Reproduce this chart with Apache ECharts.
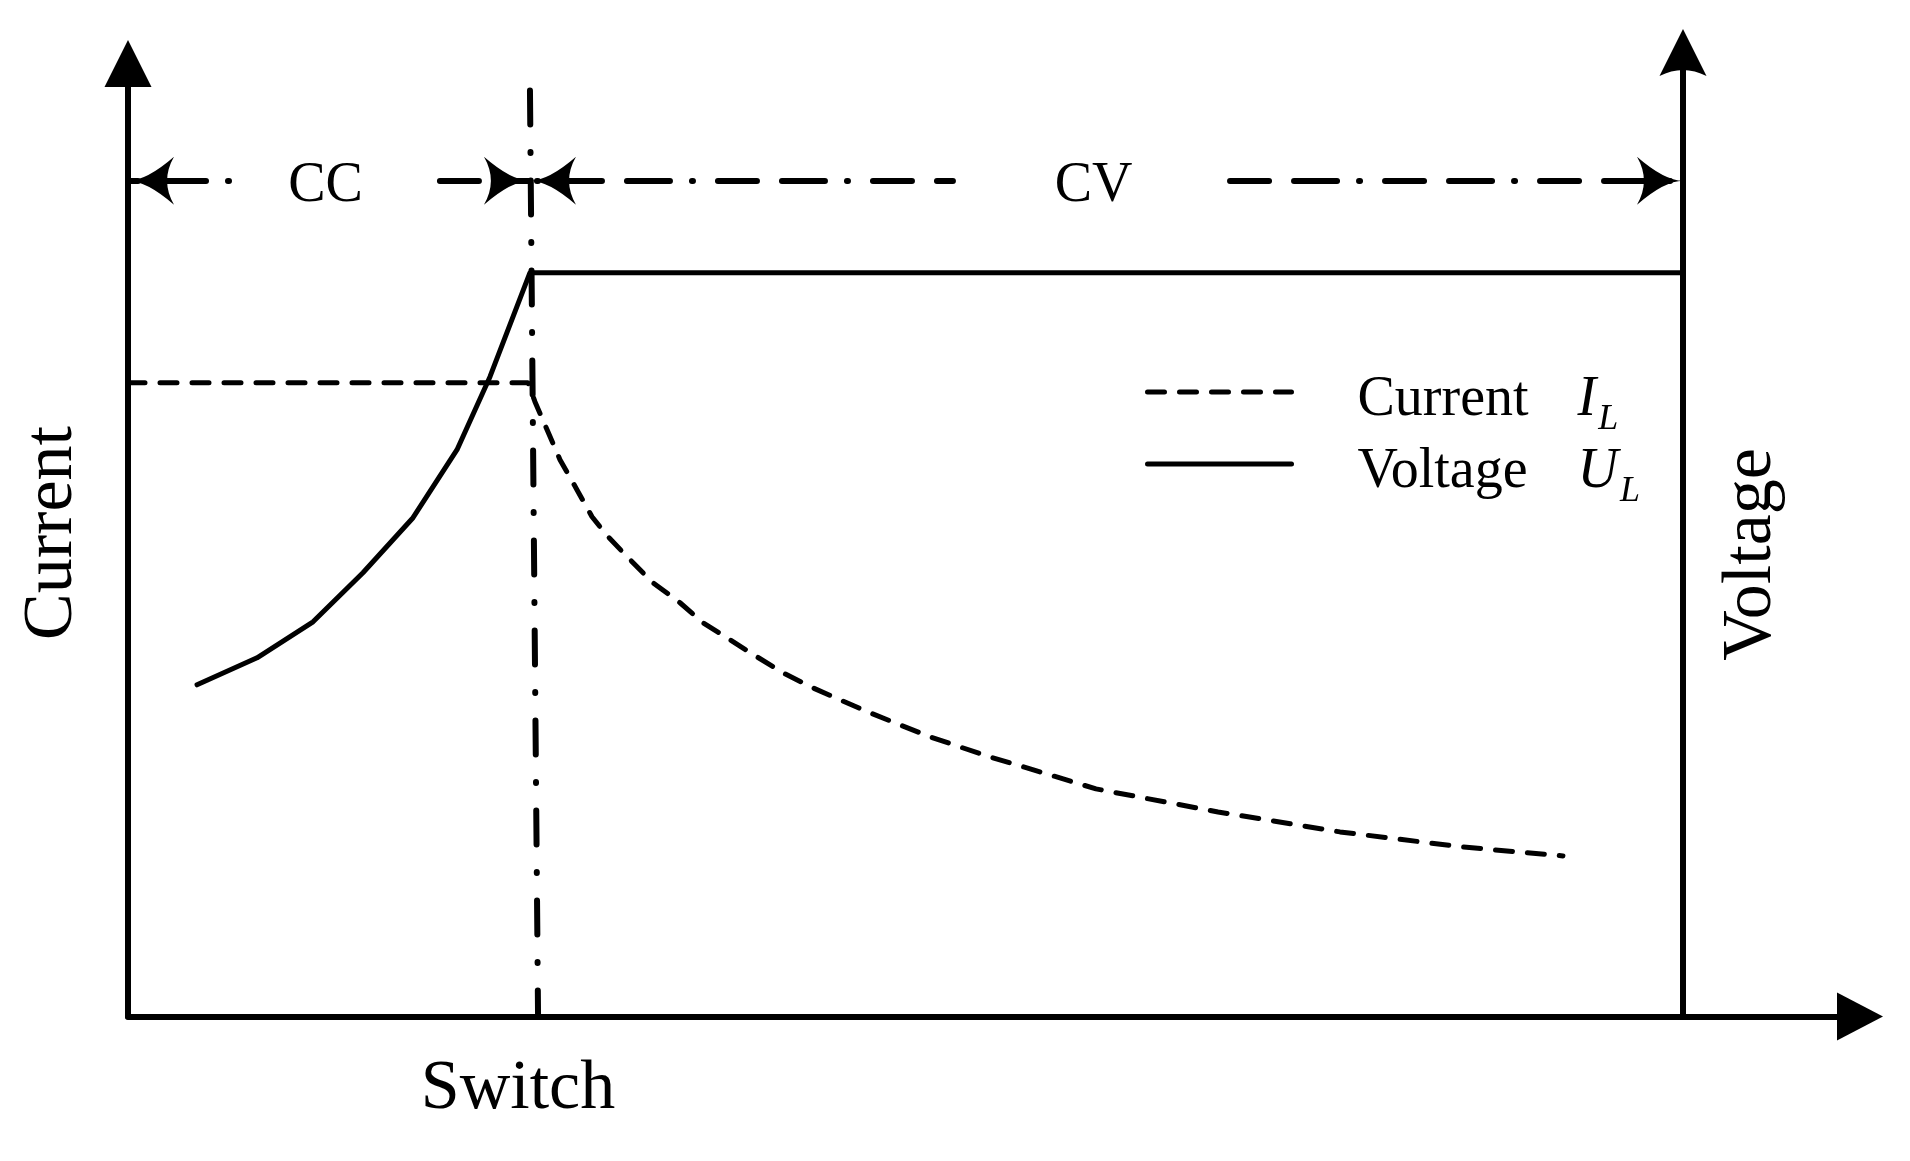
<!DOCTYPE html>
<html><head><meta charset="utf-8">
<script src="https://cdn.jsdelivr.net/npm/echarts@6/dist/echarts.min.js"></script>
<style>html,body{margin:0;padding:0;background:#fff}#c{width:1910px;height:1161px}</style>
</head><body><div id="c"></div>
<script>
// ---------- data (time axis 0..100 = left axis .. right axis, value axis 0..100) ----------
const currentTime  = [0, 25.72, 26.17, 26.95, 27.78, 28.87, 29.84, 30.87, 32.48, 33.76, 35.50, 36.98, 38.71, 40.45, 42.12, 44.05, 45.79, 47.72, 49.65, 51.58, 53.50, 55.43, 57.17, 62.25, 70.10, 77.94, 85.79, 92.28];
const currentValue = [65.75, 65.75, 63.78, 60.87, 57.76, 54.65, 51.84, 49.77, 47.07, 44.99, 42.92, 40.84, 39.08, 37.31, 35.65, 34.09, 32.85, 31.50, 30.25, 29.01, 27.97, 26.93, 26.10, 23.61, 21.22, 19.15, 17.59, 16.66];
const voltageTime  = [4.44, 8.30, 11.90, 15.11, 18.33, 21.16, 23.28, 25.85, 100];
const voltageValue = [34.41, 37.21, 40.94, 46.03, 51.74, 58.80, 66.37, 77.16, 77.16];
const switchTime   = [25.85, 26.37];
const switchLevel  = [96.05, 0];
const phaseNames   = ['CC', 'CV'];
const phaseLevel   = 86.7;
const phaseLabelTime = [12.7, 62.1];
const ccSegments   = [[0, 6.69], [20.06, 25.85]];
const cvSegments   = [[25.85, 53.05], [70.87, 100]];
const seriesNames  = ['Current', 'Voltage'];
const seriesSymbols = ['I', 'U'];
const seriesSub    = 'L';
const xLabel = 'Switch';
const leftAxisName = 'Current';
const rightAxisName = 'Voltage';

// ---------- chart ----------
const FONT = 'Liberation Serif';
const arrowPath = 'path://M50 0 Q50 40 100 100 Q50 70 0 100 Q50 40 50 0 Z';
const topArrowPath = 'path://M50 0 L100 100 Q50 74 0 100 Z';
const zip = (xs, ys) => xs.map((x, i) => [x, ys[i]]);

const dashDot = [39, 25, 43, 22, 1, 25];
function seg(a, b, arrowAtStart, offset) {
  return [
    { coord: [a, phaseLevel], symbol: arrowAtStart ? arrowPath : 'none', lineStyle: { dashOffset: offset } },
    { coord: [b, phaseLevel], symbol: arrowAtStart ? 'none' : arrowPath }
  ];
}

const chart = echarts.init(document.getElementById('c'), null, { renderer: 'canvas' });
chart.setOption({
  animation: false,
  backgroundColor: '#fff',
  textStyle: { fontFamily: FONT, color: '#000' },
  grid: [
    { left: 128, right: 50, top: 63.5, bottom: 144.5 },
    { left: 128, right: 227, top: 52.5, bottom: 144.5 }
  ],
  xAxis: [
    { gridIndex: 0, type: 'value', min: 0, max: 1,
      axisLine: { show: true, onZero: false, symbol: ['none', 'triangle'], symbolSize: [48, 46], lineStyle: { color: '#000', width: 6 } },
      axisTick: { show: false }, axisLabel: { show: false }, splitLine: { show: false } },
    { gridIndex: 1, type: 'value', min: 0, max: 100,
      axisLine: { show: false, onZero: false }, axisTick: { show: false }, splitLine: { show: false },
      axisLabel: { show: true, customValues: [switchTime[0]], formatter: () => xLabel,
        fontFamily: FONT, fontSize: 70, color: '#000', margin: 38, padding: [0, 24, 0, 0] } }
  ],
  yAxis: [
    { gridIndex: 0, type: 'value', min: 0, max: 1, position: 'left',
      name: leftAxisName, nameLocation: 'middle', nameRotate: 90, nameGap: 40,
      nameTextStyle: { fontFamily: FONT, fontSize: 70, color: '#000', padding: [0, 0, 0, 14] },
      axisLine: { show: true, onZero: false, symbol: ['none', 'triangle'], symbolSize: [47, 47], lineStyle: { color: '#000', width: 6 } },
      axisTick: { show: false }, axisLabel: { show: false }, splitLine: { show: false } },
    { gridIndex: 1, type: 'value', min: 0, max: 100, position: 'right',
      name: rightAxisName, nameLocation: 'middle', nameRotate: 90, nameGap: 34,
      nameTextStyle: { fontFamily: FONT, fontSize: 70, color: '#000', padding: [0, 40, 0, 0] },
      axisLine: { show: true, onZero: false, symbol: ['none', topArrowPath], symbolSize: [47, 47], lineStyle: { color: '#000', width: 6 } },
      axisTick: { show: false }, axisLabel: { show: false }, splitLine: { show: false } }
  ],
  legend: {
    orient: 'vertical', left: 1140, top: 367, itemWidth: 144, itemHeight: 14, itemGap: 6,
    data: seriesNames,
    lineStyle: { width: 5 },
    itemStyle: { color: 'rgba(0,0,0,0)', opacity: 0, borderWidth: 0 },
    formatter: name => {
      const i = seriesNames.indexOf(name);
      return '{n|' + name + '}{i|' + seriesSymbols[i] + '}{s|' + seriesSub + '}';
    },
    textStyle: {
      fontFamily: FONT, color: '#000', padding: [16, 0, 0, 61],
      rich: {
        n: { fontFamily: FONT, fontSize: 56, lineHeight: 56, width: 220, color: '#000' },
        i: { fontFamily: FONT, fontSize: 56, lineHeight: 56, fontStyle: 'italic', color: '#000' },
        s: { fontFamily: FONT, fontSize: 36, fontStyle: 'italic', verticalAlign: 'bottom', padding: [0, 0, -10, 2], color: '#000' }
      }
    }
  },
  series: [
    { name: seriesNames[0], type: 'line', xAxisIndex: 1, yAxisIndex: 1, symbol: 'none', clip: false,
      data: zip(currentTime, currentValue),
      lineStyle: { color: '#000', width: 5, type: [17, 15], cap: 'round', join: 'round' }, itemStyle: { color: '#000' } },
    { name: seriesNames[1], type: 'line', xAxisIndex: 1, yAxisIndex: 1, symbol: 'none', clip: false,
      data: zip(voltageTime, voltageValue),
      lineStyle: { color: '#000', width: 5, type: 'solid', cap: 'round', join: 'round' }, itemStyle: { color: '#000' } },
    { name: 'switch', type: 'line', xAxisIndex: 1, yAxisIndex: 1, symbol: 'none', clip: false, silent: true,
      data: zip(switchTime, switchLevel),
      lineStyle: { color: '#000', width: 6, type: [34, 27.5, 1, 27.5], cap: 'round' },
      markLine: {
        silent: true, animation: false,
        symbolSize: [48, 46], symbolOffset: [[0, 23], [0, 23]],
        label: { show: false },
        lineStyle: { color: '#000', width: 6, type: dashDot, cap: 'round' },
        emphasis: { disabled: true },
        data: [
          seg(ccSegments[0][0], ccSegments[0][1], true, 29),
          seg(ccSegments[1][0], ccSegments[1][1], false, 0),
          seg(cvSegments[0][0], cvSegments[0][1], true, 122),
          seg(cvSegments[1][0], cvSegments[1][1], false, 0)
        ]
      } },
    { name: 'phase', type: 'scatter', xAxisIndex: 1, yAxisIndex: 1, clip: false, silent: true,
      symbolSize: 1, itemStyle: { color: 'rgba(0,0,0,0)', opacity: 1 },
      data: phaseNames.map((n, i) => ({ value: [phaseLabelTime[i], phaseLevel], name: n })),
      label: { show: true, position: 'inside', offset: [0, 6], formatter: p => p.name, opacity: 1,
        fontFamily: FONT, fontSize: 56, color: '#000', textBorderWidth: 0 } }
  ]
});
</script>
</body></html>
